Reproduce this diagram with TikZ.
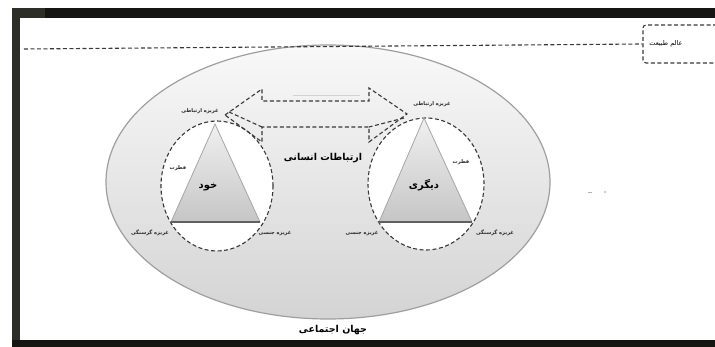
\documentclass[tikz,border=0pt]{standalone}
\usepackage{fontspec}
\newfontfamily\fa[Script=Arabic]{DejaVu Sans}
\TeXXeTstate=1
\usetikzlibrary{shapes.geometric}
\definecolor{framec}{HTML}{151512}
\definecolor{framel}{HTML}{2E2E28}
\definecolor{dashc}{HTML}{383838}
\begin{document}
\begin{tikzpicture}[x=1pt,y=-1pt,
  lbl/.style={font=\fa\bfseries\fontsize{5.1}{6}\selectfont, inner sep=0pt, text=black!85},
  big/.style={font=\fa\bfseries\fontsize{9.5}{10}\selectfont, inner sep=0pt},
  dsh/.style={dash pattern=on 4pt off 2.5pt, line width=1.1pt, draw=dashc},
  ring/.style={ellipse, draw=dashc, dash pattern=on 4pt off 2.5pt, line width=1.1pt, fill=white, inner sep=0pt},
  tri/.style={draw=gray!70, line width=0.8pt, top color=gray!12, bottom color=gray!45},
  base/.style={draw=gray!75!black, line width=1.1pt}
]
\useasboundingbox (0,0) rectangle (715,347);
\clip (0,0) rectangle (715,347);
\fill[white] (0,0) rectangle (715,347);
% frame
\fill[framec] (13,8) rectangle (715,18);
\fill[framel] (13,8) rectangle (45,18);
\fill[framel] (12,8) rectangle (20,347);
\fill[framec] (12,340) rectangle (715,347);

% social world ellipse
\node[ellipse, minimum width=444pt, minimum height=274pt, inner sep=0pt,
      draw=gray!75, line width=1.2pt, top color=gray!5, bottom color=gray!34] (world) at (328,182) {};
\node[big] (worldlbl) at (333,330) {\beginR جهان اجتماعی\endR};

% nature box and line
\node[draw=dashc, dash pattern=on 4pt off 2.5pt, line width=1.1pt, rounded corners=3pt,
      minimum width=90pt, minimum height=38pt, inner sep=0pt] (nature) at (688,44) {};
\node[font=\fa\fontsize{6.6}{8}\selectfont, inner sep=0pt] (naturelbl) at (666,44) {\beginR عالم طبیعت\endR};
\coordinate (lineL) at (24,49);
\draw[dsh] (lineL) -- (nature.west);

% circles
\node[ring, minimum width=112pt, minimum height=130pt] (selfc) at (217,186) {};
\node[ring, minimum width=116pt, minimum height=132pt] (otherc) at (426,184) {};

% triangles
\coordinate (LA) at (215,124);
\coordinate (LB) at (171,222);
\coordinate (LC) at (260,222);
\path[tri] (LA) -- (LB) -- (LC) -- cycle;
\draw[base] (LB) -- (LC);
\coordinate (RA) at (424,118);
\coordinate (RB) at (379,222);
\coordinate (RC) at (472,222);
\path[tri] (RA) -- (RB) -- (RC) -- cycle;
\draw[base] (RB) -- (RC);

% double block arrow
\coordinate (T1) at (225,115);
\coordinate (B1u) at (262,89);
\coordinate (C1u) at (262,101);
\coordinate (C2u) at (369,101);
\coordinate (B2u) at (369,88);
\coordinate (T2) at (407,114);
\coordinate (B2d) at (369,142);
\coordinate (C2d) at (369,127);
\coordinate (C1d) at (262,127);
\coordinate (B1d) at (262,142);
\draw[dsh] (T1) -- (B1u) -- (C1u) -- (C2u) -- (B2u) -- (T2) -- (B2d) -- (C2d) -- (C1d) -- (B1d) -- cycle;
\coordinate (T1b) at (229,112);
\coordinate (T2b) at (404,118);
\draw[dsh] (T1b) -- (C1d);
\draw[dsh] (T2b) -- (C2d);
\draw[gray!35, line width=0.6pt] (293,95) -- (360,95);

\node[big] (human) at (323,158) {\beginR ارتباطات انسانی\endR};

% left labels
\node[big, font=\fa\bfseries\fontsize{10}{11}\selectfont] (self) at (208,187) {\beginR خود\endR};
\node[lbl] (lrel) at (200,111) {\beginR غریزه ارتباطی\endR};
\node[lbl] (lfit) at (178,168) {\beginR فطرت\endR};
\node[lbl] (lhun) at (150,233) {\beginR غریزه گرسنگی\endR};
\node[lbl] (lsex) at (275,233) {\beginR غریزه جنسی\endR};

% right labels
\node[big, font=\fa\bfseries\fontsize{10}{11}\selectfont] (other) at (424,185) {\beginR دیگری\endR};
\node[lbl] (rrel) at (432,104) {\beginR غریزه ارتباطی\endR};
\node[lbl] (rfit) at (461,162) {\beginR فطرت\endR};
\node[lbl] (rsex) at (362,233) {\beginR غریزه جنسی\endR};
\node[lbl] (rhun) at (495,233) {\beginR غریزه گرسنگی\endR};

% specks
\draw[gray!60, line width=0.8pt] (588,192) -- (592,192);
\fill[gray!60] (605,192) circle (1pt);
\end{tikzpicture}
\end{document}
